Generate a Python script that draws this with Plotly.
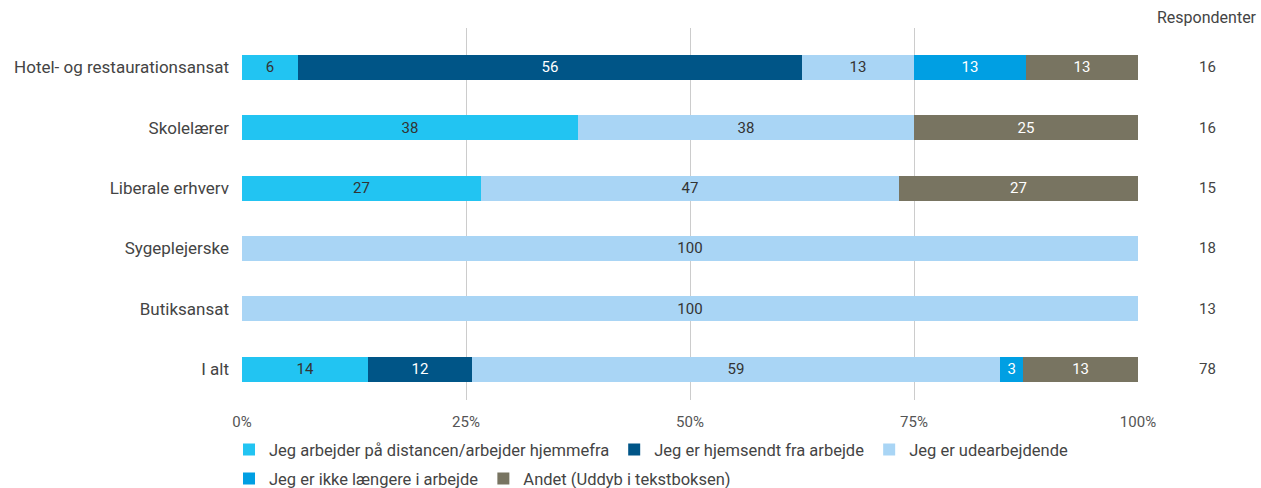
import plotly.graph_objects as go

categories = ["Hotel- og restaurationsansat", "Skolelærer", "Liberale erhverv",
              "Sygeplejerske", "Butiksansat", "I alt"]
respondents = [16, 16, 15, 18, 13, 78]

series_names = [
    "Jeg arbejder på distancen/arbejder hjemmefra",
    "Jeg er hjemsendt fra arbejde",
    "Jeg er udearbejdende",
    "Jeg er ikke længere i arbejde",
    "Andet (Uddyb i tekstboksen)",
]
# answer counts per category (share = count / respondents)
distance = [1, 6, 4, 0, 0, 11]
hjemsendt = [9, 0, 0, 0, 0, 9]
udearbejdende = [2, 6, 7, 18, 13, 46]
ikke_laengere = [2, 0, 0, 0, 0, 2]
andet = [2, 4, 4, 0, 0, 10]

series_counts = [distance, hjemsendt, udearbejdende, ikke_laengere, andet]
colors = ["#22C4F2", "#005587", "#A9D5F5", "#009FE3", "#787461"]
text_colors = ["#333333", "#FFFFFF", "#333333", "#FFFFFF", "#FFFFFF"]
legend_groups = ["legend", "legend", "legend", "legend2", "legend2"]
x_ticks = [0, 25, 50, 75, 100]
x_tick_labels = ["0%", "25%", "50%", "75%", "100%"]

FONT = "Roboto, Arial, sans-serif"

fig = go.Figure()
for name, counts, col, tcol, lg in zip(series_names, series_counts, colors,
                                       text_colors, legend_groups):
    pct = [c / r * 100 for c, r in zip(counts, respondents)]
    txt = [f"{int(p + 0.5)}" if p > 0 else "" for p in pct]
    fig.add_trace(go.Bar(
        name=name, y=categories, x=pct, orientation="h",
        marker=dict(color=col, line=dict(width=0)),
        text=txt, textposition="inside", insidetextanchor="middle",
        textangle=0, constraintext="none",
        textfont=dict(color=tcol, size=15, family=FONT),
        hoverinfo="name+x", legend=lg,
    ))

for cat, r in zip(categories, respondents):
    fig.add_annotation(x=1.078, xref="paper", y=cat, yref="y", text=str(r),
                       showarrow=False, xanchor="center",
                       font=dict(size=15, color="#444444", family=FONT))
fig.add_annotation(x=1.1345, xref="paper", y=1.027, yref="paper", text="Respondenter",
                   showarrow=False, xanchor="right", yanchor="middle",
                   font=dict(size=16, color="#444444", family=FONT))

legend_common = dict(orientation="h", xanchor="left", yanchor="middle",
                     font=dict(size=16.5, color="#444444", family=FONT),
                     traceorder="normal", itemwidth=30, bgcolor="rgba(0,0,0,0)")

fig.update_layout(
    width=1261, height=488,
    barmode="stack", bargap=0.585,
    plot_bgcolor="white", paper_bgcolor="white",
    margin=dict(l=242, r=123, t=28, b=88, autoexpand=False),
    font=dict(family=FONT, size=16, color="#444444"),
    xaxis=dict(range=[0, 100], tickvals=x_ticks, ticktext=x_tick_labels,
               showgrid=True, gridcolor="#CCCCCC", gridwidth=1,
               zeroline=False, showline=False, ticks="",
               ticklabelstandoff=11, tickfont=dict(size=15, color="#555555")),
    yaxis=dict(range=[5.51, -0.65], showgrid=False, zeroline=False, ticks="",
               ticklabelstandoff=12, tickfont=dict(size=17, color="#444444")),
    legend=dict(x=-0.0145, y=-0.134, **legend_common),
    legend2=dict(x=-0.0145, y=-0.212, **legend_common),
    showlegend=True,
)

fig.write_html("out.html", config={"displayModeBar": False},
               post_script="document.body.style.margin='0';")
